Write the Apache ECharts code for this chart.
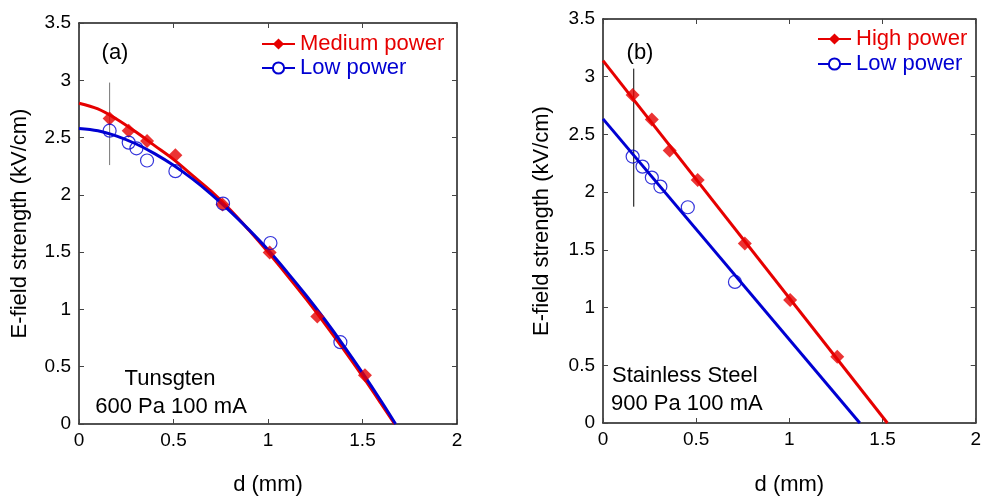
<!DOCTYPE html>
<html>
<head>
<meta charset="utf-8">
<script src="https://cdn.jsdelivr.net/npm/echarts@6/dist/echarts.min.js"></script>
<style>
html,body{margin:0;padding:0;background:#fff;}
#chart{width:984px;height:501px;}
</style>
</head>
<body>
<div id="chart"></div>
<script>
// ---------- Data ----------
// Panel (a): Tungsten, 600 Pa 100 mA
const aMediumPts = [[0.162,2.666],[0.263,2.56],[0.36,2.47],[0.51,2.346],[0.759,1.915],[1.009,1.497],[1.261,0.939],[1.513,0.425]];
const aLowPts = [[0.162,2.56],[0.263,2.456],[0.304,2.406],[0.36,2.30],[0.51,2.207],[0.762,1.924],[1.013,1.58],[1.383,0.714]];
const aMediumFit = [[0,2.80],[0.1,2.75],[0.2,2.66],[0.3,2.55],[0.4,2.43],[0.5,2.31],[0.6,2.17],[0.7,2.03],[0.8,1.87],[0.9,1.69],[1.0,1.50],[1.1,1.30],[1.2,1.094],[1.3,0.877],[1.4,0.651],[1.5,0.417],[1.6,0.174],[1.67,0]];
const aLowFit = [[0,2.58],[0.1,2.56],[0.2,2.513],[0.3,2.446],[0.4,2.36],[0.5,2.258],[0.6,2.139],[0.7,2.005],[0.8,1.856],[0.9,1.694],[1.0,1.52],[1.1,1.328],[1.2,1.126],[1.3,0.912],[1.4,0.685],[1.5,0.446],[1.6,0.196],[1.675,0]];
const aMarkerLine = [[0.162,2.98],[0.162,2.26]];

// Panel (b): Stainless Steel, 900 Pa 100 mA
const bHighPts = [[0.159,2.842],[0.262,2.63],[0.358,2.36],[0.508,2.106],[0.761,1.554],[1.004,1.066],[1.257,0.575]];
const bLowPts = [[0.159,2.308],[0.212,2.221],[0.262,2.126],[0.308,2.048],[0.455,1.869],[0.708,1.222]];
const bHighFit = [[0,3.14],[1.526,0]];
const bLowFit = [[0,2.635],[1.378,0]];
const bMarkerLine = [[0.165,3.07],[0.165,1.874]];

// Axis ticks
const xTicks = [0, 0.5, 1, 1.5, 2];
const yTicks = [0, 0.5, 1, 1.5, 2, 2.5, 3, 3.5];

const legendA = ['Medium power', 'Low power'];
const legendB = ['High power', 'Low power '];
const xName = 'd (mm)';
const yName = 'E-field strength (kV/cm)';
const notesA = ['(a)', 'Tunsgten', '600 Pa 100 mA'];
const notesB = ['(b)', 'Stainless Steel', '900 Pa 100 mA'];

// ---------- Styling ----------
const RED = '#e60000';
const BLUE = '#0000d2';
const FONT = "'Liberation Sans', Arial, Helvetica, sans-serif";
const AX = '#1a1a1a';

const chart = echarts.init(document.getElementById('chart'), null, {renderer: 'canvas'});

function xAxes(grid, nameGap) {
  const step = xTicks[1] - xTicks[0];
  const base = {
    type: 'value', gridIndex: grid, min: xTicks[0], max: xTicks[xTicks.length - 1], interval: step,
    axisLine: {show: true, onZero: false, lineStyle: {color: AX, width: 1.5}},
    axisTick: {show: true, inside: true, length: 5, lineStyle: {color: '#444', width: 1}},
    splitLine: {show: false}
  };
  return [
    Object.assign({}, base, {
      position: 'bottom',
      axisLabel: {color: '#000', fontSize: 19, fontFamily: FONT, margin: 7},
      name: xName, nameLocation: 'middle', nameGap: nameGap,
      nameTextStyle: {color: '#000', fontSize: 22, fontFamily: FONT}
    }),
    Object.assign({}, base, {position: 'top', axisLabel: {show: false}})
  ];
}
function yAxes(grid, nameGap) {
  const step = yTicks[1] - yTicks[0];
  const base = {
    type: 'value', gridIndex: grid, min: yTicks[0], max: yTicks[yTicks.length - 1], interval: step,
    axisLine: {show: true, onZero: false, lineStyle: {color: AX, width: 1.5}},
    axisTick: {show: true, inside: true, length: 5, lineStyle: {color: '#444', width: 1}},
    splitLine: {show: false}
  };
  return [
    Object.assign({}, base, {
      position: 'left',
      axisLabel: {color: '#000', fontSize: 19, fontFamily: FONT, margin: 8},
      name: yName, nameLocation: 'middle', nameGap: nameGap, nameRotate: 90,
      nameTextStyle: {color: '#000', fontSize: 22, fontFamily: FONT}
    }),
    Object.assign({}, base, {position: 'right', axisLabel: {show: false}})
  ];
}

function fitLine(name, data, color, symbol, xi, yi, width) {
  return {
    name: name, type: 'line', data: data, xAxisIndex: xi, yAxisIndex: yi,
    smooth: data.length > 2 ? 0.35 : false, symbol: symbol, showSymbol: false, symbolSize: 11,
    lineStyle: {color: color, width: width}, itemStyle: {color: color},
    emphasis: {disabled: true}, silent: true, z: 3
  };
}
function points(data, color, symbol, size, xi, yi, hollow) {
  return {
    type: 'scatter', data: data, xAxisIndex: xi, yAxisIndex: yi,
    symbol: symbol, symbolSize: size,
    itemStyle: hollow ? {color: 'rgba(255,255,255,0)', borderColor: color, borderWidth: 1.2} : {color: color},
    emphasis: {disabled: true}, silent: true, z: 4
  };
}
function vline(data, color, xi, yi) {
  return {
    type: 'line', data: data, xAxisIndex: xi, yAxisIndex: yi, symbol: 'none',
    lineStyle: {color: color, width: 1}, silent: true, z: 2
  };
}
function legendItems(names, colors) {
  return names.map((n, i) => ({name: n, textStyle: {color: colors[i]}}));
}

const txt = (t, x, y, align) => ({
  type: 'text', left: undefined, x: x, y: y,
  style: {text: t, fill: '#000', font: '22px ' + FONT, textAlign: align, textVerticalAlign: 'middle'}
});

const option = {
  backgroundColor: '#fff',
  animation: false,
  grid: [
    {left: 79, top: 23, width: 378, height: 404, containLabel: false},
    {left: 603, top: 19, width: 377, height: 404, containLabel: false}
  ],
  xAxis: xAxes(0, 50).concat(xAxes(1, 51)),
  yAxis: yAxes(0, 48).concat(yAxes(1, 50)),
  legend: [
    {
      data: legendItems(legendA, [RED, BLUE]), orient: 'vertical', left: 261, top: 32,
      itemWidth: 33, itemHeight: 14, itemGap: 0, padding: 0, selectedMode: false,
      textStyle: {fontSize: 22, fontFamily: FONT, lineHeight: 24}
    },
    {
      data: legendItems(legendB, [RED, BLUE]), orient: 'vertical', left: 817, top: 27,
      itemWidth: 33, itemHeight: 14, itemGap: 1, padding: 0, selectedMode: false,
      textStyle: {fontSize: 22, fontFamily: FONT, lineHeight: 24}
    }
  ],
  graphic: [
    txt(notesA[0], 115, 53, 'center'),
    txt(notesA[1], 170, 379, 'center'),
    txt(notesA[2], 171, 407, 'center'),
    txt(notesB[0], 640, 53, 'center'),
    txt(notesB[1], 612, 376, 'left'),
    txt(notesB[2], 611, 404, 'left')
  ],
  series: [
    vline(aMarkerLine, '#777', 0, 0),
    fitLine(legendA[0], aMediumFit, RED, 'diamond', 0, 0, 3),
    points(aMediumPts, RED, 'diamond', 14, 0, 0, false),
    points(aLowPts, BLUE, 'circle', 13, 0, 0, true),
    fitLine(legendA[1], aLowFit, BLUE, 'emptyCircle', 0, 0, 3),

    vline(bMarkerLine, '#000', 2, 2),
    fitLine(legendB[0], bHighFit, RED, 'diamond', 2, 2, 3),
    points(bHighPts, RED, 'diamond', 14, 2, 2, false),
    fitLine(legendB[1], bLowFit, BLUE, 'emptyCircle', 2, 2, 3),
    points(bLowPts, BLUE, 'circle', 13, 2, 2, true)
  ]
};
chart.setOption(option);
</script>
</body>
</html>
